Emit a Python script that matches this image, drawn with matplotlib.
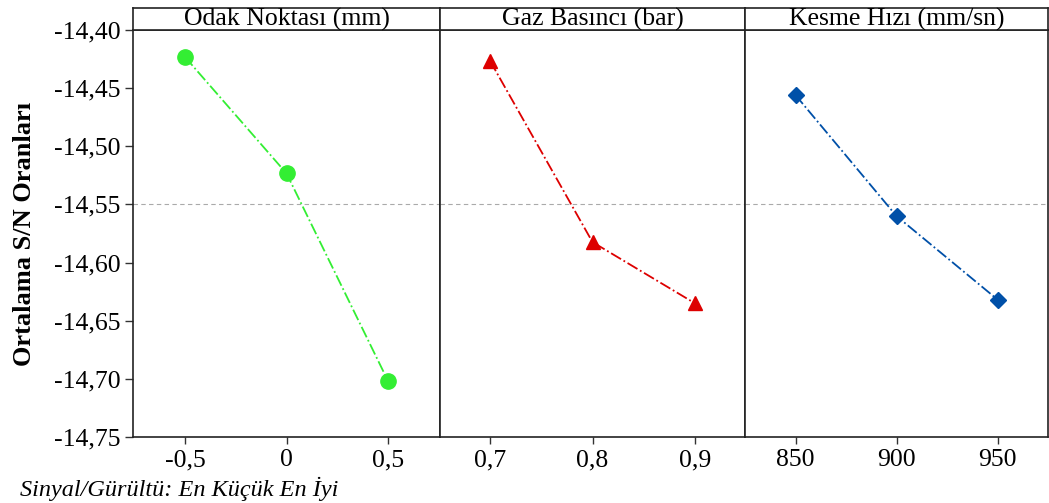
import matplotlib
matplotlib.use("Agg")
import matplotlib.pyplot as plt
from matplotlib.ticker import FixedLocator, FuncFormatter

plt.rcParams['font.family'] = ['Liberation Serif', 'DejaVu Serif']

panel_titles = ["Odak Noktası (mm)", "Gaz Basıncı (bar)", "Kesme Hızı (mm/sn)"]
odak_x = [-0.5, 0.0, 0.5]
odak_sn = [-14.4232, -14.5233, -14.7018]
gaz_x = [0.7, 0.8, 0.9]
gaz_sn = [-14.4267, -14.5824, -14.6350]
hiz_x = [850, 900, 950]
hiz_sn = [-14.4560, -14.5600, -14.6318]
odak_labels = ["-0,5", "0", "0,5"]
gaz_labels = ["0,7", "0,8", "0,9"]
hiz_labels = ["850", "900", "950"]
y_ticks = [-14.40, -14.45, -14.50, -14.55, -14.60, -14.65, -14.70, -14.75]
mean_sn = -14.55

W, H = 1049, 503
fig = plt.figure(figsize=(W / 100, H / 100), dpi=100)

left, right, top, bottom = 133, 1048, 30, 437
strip_top = 8
xs = [133, 440, 745, 1048]

series = [
    (odak_x, odak_sn, odak_labels, "#33ee33", "o", 11, (-0.756, 0.756)),
    (gaz_x, gaz_sn, gaz_labels, "#dd0000", "^", 10, (0.651, 0.949)),
    (hiz_x, hiz_sn, hiz_labels, "#0050a8", "D", 8, (825, 975)),
]

for i, (x, y, labs, col, mk, ms, xl) in enumerate(series):
    x0, x1 = xs[i], xs[i + 1]
    ax = fig.add_axes([x0 / W, 1 - bottom / H, (x1 - x0) / W, (bottom - top) / H])
    ax.axhline(mean_sn, color="#aaaaaa", lw=0.8, ls=(0, (4, 3)), zorder=1)
    ax.plot(x, y, color=col, lw=1.3, ls="-.", marker=mk, ms=ms, mec=col, mfc=col, zorder=3)
    ax.set_xlim(*xl)
    ax.set_ylim(-14.75, -14.40)
    ax.xaxis.set_major_locator(FixedLocator(x))
    ax.set_xticklabels(labs)
    ax.tick_params(axis="x", direction="out", length=5, width=1, labelsize=18.5, pad=4, color="#333333")
    ax.yaxis.set_major_locator(FixedLocator(y_ticks))
    if i == 0:
        ax.yaxis.set_major_formatter(FuncFormatter(lambda v, p: f"{v:.2f}".replace(".", ",")))
        ax.tick_params(axis="y", direction="out", length=6, width=1, labelsize=18.5, pad=3, color="#333333")
        ax.set_ylabel("Ortalama S/N Oranları", fontsize=19, fontweight="bold", labelpad=13)
    else:
        ax.tick_params(axis="y", left=False, labelleft=False)
    for s in ax.spines.values():
        s.set_color("#222222")
        s.set_linewidth(1.2)

    sax = fig.add_axes([x0 / W, 1 - top / H, (x1 - x0) / W, (top - strip_top) / H])
    sax.set_xticks([])
    sax.set_yticks([])
    for s in sax.spines.values():
        s.set_color("#222222")
        s.set_linewidth(1.2)
    sax.text(0.5, 0.48, panel_titles[i], ha="center", va="center", fontsize=18.5,
             transform=sax.transAxes)

fig.text(20 / W, 1 - 489 / H, "Sinyal/Gürültü: En Küçük En İyi", fontsize=17.5, style="italic",
         ha="left", va="center")

fig.savefig("out.png", dpi=100)
